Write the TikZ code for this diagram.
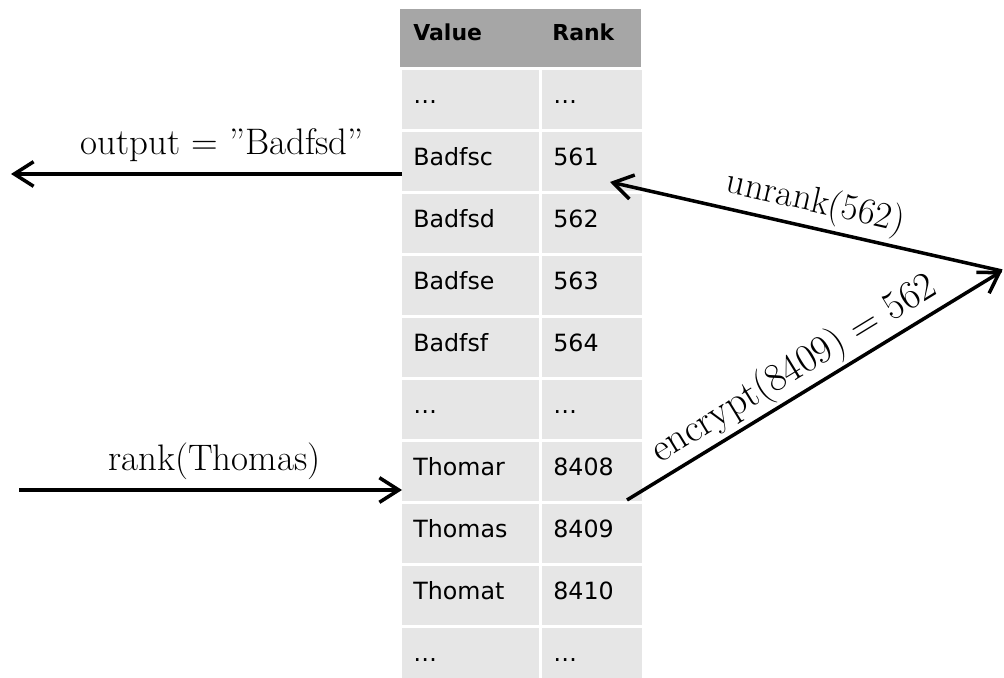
\documentclass[tikz,border=0pt]{standalone}
\usepackage{fontspec}
\usepackage{xcolor}
\usepackage{tikz}
\usetikzlibrary{arrows.meta}
\usetikzlibrary{positioning}
\newfontfamily\cellfont{DejaVu Sans}
\definecolor{headgray}{RGB}{166,166,166}
\definecolor{cellgray}{RGB}{230,230,230}
\tikzset{
head cell/.style = { rectangle, fill = headgray, anchor = north west, minimum height = 1.16cm, text width = 2.30cm, inner xsep = 0.26cm, inner ysep = 0pt, align = left, text height = 0.36cm, text depth = 0.28cm, font = \cellfont\bfseries\fontsize{12.5}{15}\selectfont },
value cell/.style = { rectangle, fill = cellgray, anchor = north west, minimum height = 1.18cm, text width = 2.30cm, inner xsep = 0.22cm, inner ysep = 0pt, align = left, text height = 0.40cm, text depth = 0.26cm, font = \cellfont\fontsize{13.5}{16}\selectfont },
rank cell/.style = { value cell, text width = 1.56cm },
call arrow/.style = { line width = 2pt, -{Straight Barb[length = 11pt, width = 14pt]} },
call label/.style = { inner sep = 1pt, text depth = 0pt, font = \fontsize{21}{25}\selectfont },
}

\begin{document}
\begin{tikzpicture}[x = 0.02cm, y = -0.02cm]
    \useasboundingbox (0, 0) rectangle (1004, 678);
    \clip (0, 0) rectangle (1004, 678);
    \node[head cell] (hv) at (400, 9) {Value};
    \node[head cell, text width = 1.56cm, inner xsep = 0.22cm] (hr) at (541, 9) {Rank};
    \node[value cell] (v1) at (402, 70) {…};
    \node[rank cell] (r1) at (542, 70) {…};
    \node[value cell] (v2) at (402, 132) {Badfsc};
    \node[rank cell] (r2) at (542, 132) {561};
    \node[value cell] (v3) at (402, 194) {Badfsd};
    \node[rank cell] (r3) at (542, 194) {562};
    \node[value cell] (v4) at (402, 256) {Badfse};
    \node[rank cell] (r4) at (542, 256) {563};
    \node[value cell] (v5) at (402, 318) {Badfsf};
    \node[rank cell] (r5) at (542, 318) {564};
    \node[value cell] (v6) at (402, 380) {…};
    \node[rank cell] (r6) at (542, 380) {…};
    \node[value cell] (v7) at (402, 442) {Thomar};
    \node[rank cell] (r7) at (542, 442) {8408};
    \node[value cell] (v8) at (402, 504) {Thomas};
    \node[rank cell] (r8) at (542, 504) {8409};
    \node[value cell] (v9) at (402, 566) {Thomat};
    \node[rank cell] (r9) at (542, 566) {8410};
    \node[value cell] (v10) at (402, 628) {…};
    \node[rank cell] (r10) at (542, 628) {…};
    \coordinate (outend) at (11, 174);
    \coordinate (rankstart) at (19, 490);
    \coordinate (meet) at (1002, 271);
    \coordinate (unrankend) at (610, 182);
    \coordinate (encstart) at (627, 500);
    \draw[call arrow] (v2.west |- outend) -- node[call label, pos = 0.46, above = 9pt] {output = ”Badfsd”} (outend);
    \draw[call arrow] (rankstart) -- node[call label, pos = 0.51, above = 9pt] {rank(Thomas)} (v7.west |- rankstart);
    \draw[call arrow] (meet) -- node[call label, sloped, pos = 0.49, above = 7pt] {unrank(562)} (unrankend);
    \draw[call arrow] (encstart) -- node[call label, sloped, pos = 0.48, above = 6pt, font = \fontsize{22.5}{26}\selectfont] {encrypt(8409) = 562} (meet);
\end{tikzpicture}
\end{document}
